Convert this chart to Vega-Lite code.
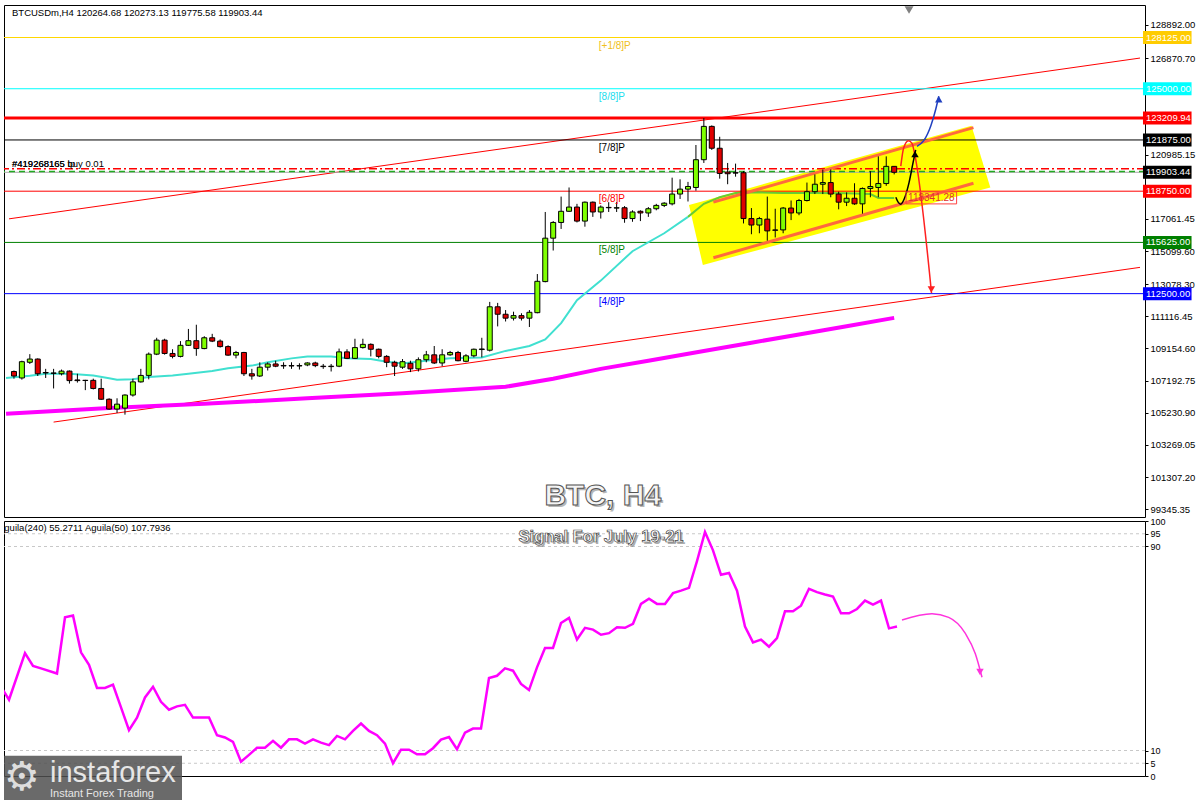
{
"$schema": "https://vega.github.io/schema/vega-lite/v6.json",
"background": "#ffffff",
"padding": {"left": 2, "top": 4, "right": 0, "bottom": 0},
"spacing": 4,
"bounds": "flush",
"resolve": {"scale": {"x": "independent", "y": "independent"}},
"config": {"view": {"stroke": "#000000", "strokeWidth": 1}, "font": "Liberation Sans"},
"datasets": {
"candles": [
{"t":"2025-06-29T16:00","o":107751,"h":107811,"l":107314,"c":107476},
{"t":"2025-06-29T20:00","o":107356,"h":108409,"l":107254,"c":108349},
{"t":"2025-06-30T00:00","o":108313,"h":108809,"l":108211,"c":108510},
{"t":"2025-06-30T04:00","o":108510,"h":108552,"l":107476,"c":107613},
{"t":"2025-06-30T08:00","o":107690,"h":107912,"l":107356,"c":107660},
{"t":"2025-06-30T12:00","o":107660,"h":107912,"l":106716,"c":107640},
{"t":"2025-06-30T16:00","o":107613,"h":107870,"l":107512,"c":107775},
{"t":"2025-06-30T20:00","o":107775,"h":107811,"l":107015,"c":107195},
{"t":"2025-07-01T00:00","o":107236,"h":107613,"l":107075,"c":107195},
{"t":"2025-07-01T04:00","o":107215,"h":107240,"l":106614,"c":107200},
{"t":"2025-07-01T08:00","o":107212,"h":107314,"l":106656,"c":106716},
{"t":"2025-07-01T12:00","o":106716,"h":107314,"l":106016,"c":106058},
{"t":"2025-07-01T16:00","o":106058,"h":106118,"l":105418,"c":105460},
{"t":"2025-07-01T20:00","o":105460,"h":106118,"l":105221,"c":105759},
{"t":"2025-07-02T00:00","o":105520,"h":106357,"l":105119,"c":106315},
{"t":"2025-07-02T04:00","o":106315,"h":107314,"l":106220,"c":107117},
{"t":"2025-07-02T08:00","o":107117,"h":107912,"l":107075,"c":107512},
{"t":"2025-07-02T12:00","o":107512,"h":108911,"l":107272,"c":108809},
{"t":"2025-07-02T16:00","o":108809,"h":109808,"l":108750,"c":109665},
{"t":"2025-07-02T20:00","o":109665,"h":109749,"l":108780,"c":108851},
{"t":"2025-07-03T00:00","o":108851,"h":109109,"l":108552,"c":108672},
{"t":"2025-07-03T04:00","o":108672,"h":109605,"l":108612,"c":109348},
{"t":"2025-07-03T08:00","o":109348,"h":110347,"l":109306,"c":109629},
{"t":"2025-07-03T12:00","o":109629,"h":110604,"l":108708,"c":109150},
{"t":"2025-07-03T16:00","o":109150,"h":109904,"l":109109,"c":109808},
{"t":"2025-07-03T20:00","o":109808,"h":110048,"l":109545,"c":109605},
{"t":"2025-07-04T00:00","o":109605,"h":109707,"l":109210,"c":109270},
{"t":"2025-07-04T04:00","o":109270,"h":109348,"l":108708,"c":108750},
{"t":"2025-07-04T08:00","o":108750,"h":109007,"l":108552,"c":108911},
{"t":"2025-07-04T12:00","o":108911,"h":108947,"l":107476,"c":107613},
{"t":"2025-07-04T16:00","o":107613,"h":107912,"l":107254,"c":107476},
{"t":"2025-07-04T20:00","o":107476,"h":108313,"l":107416,"c":108014},
{"t":"2025-07-05T00:00","o":108014,"h":108313,"l":107811,"c":108211},
{"t":"2025-07-05T04:00","o":108211,"h":108409,"l":108014,"c":108074},
{"t":"2025-07-05T08:00","o":108120,"h":108313,"l":107912,"c":108090},
{"t":"2025-07-05T12:00","o":108110,"h":108313,"l":107912,"c":108090},
{"t":"2025-07-05T16:00","o":108090,"h":108253,"l":107870,"c":108110},
{"t":"2025-07-05T20:00","o":108152,"h":108313,"l":108074,"c":108271},
{"t":"2025-07-06T00:00","o":108271,"h":108349,"l":108014,"c":108110},
{"t":"2025-07-06T04:00","o":108074,"h":108211,"l":107912,"c":108050},
{"t":"2025-07-06T08:00","o":108050,"h":108211,"l":107751,"c":108074},
{"t":"2025-07-06T12:00","o":108074,"h":109150,"l":108014,"c":108947},
{"t":"2025-07-06T16:00","o":108947,"h":109109,"l":108510,"c":108552},
{"t":"2025-07-06T20:00","o":108552,"h":109749,"l":108510,"c":109210},
{"t":"2025-07-07T00:00","o":109210,"h":109749,"l":109150,"c":109407},
{"t":"2025-07-07T04:00","o":109407,"h":109467,"l":108672,"c":109109},
{"t":"2025-07-07T08:00","o":109109,"h":109150,"l":108552,"c":108672},
{"t":"2025-07-07T12:00","o":108672,"h":108750,"l":108014,"c":108313},
{"t":"2025-07-07T16:00","o":108313,"h":108409,"l":107476,"c":108074},
{"t":"2025-07-07T20:00","o":108014,"h":108510,"l":107912,"c":108349},
{"t":"2025-07-08T00:00","o":108253,"h":108409,"l":107715,"c":107912},
{"t":"2025-07-08T04:00","o":107912,"h":108612,"l":107751,"c":108469},
{"t":"2025-07-08T08:00","o":108469,"h":109007,"l":108313,"c":108768},
{"t":"2025-07-08T12:00","o":108768,"h":109306,"l":108211,"c":108271},
{"t":"2025-07-08T16:00","o":108271,"h":109109,"l":108074,"c":108768},
{"t":"2025-07-08T20:00","o":108768,"h":109007,"l":108708,"c":108911},
{"t":"2025-07-09T00:00","o":108911,"h":109007,"l":108373,"c":108409},
{"t":"2025-07-09T04:00","o":108373,"h":108809,"l":108313,"c":108708},
{"t":"2025-07-09T08:00","o":108708,"h":109150,"l":108612,"c":109109},
{"t":"2025-07-09T12:00","o":109090,"h":109808,"l":108612,"c":109125},
{"t":"2025-07-09T16:00","o":109049,"h":111997,"l":108971,"c":111698},
{"t":"2025-07-09T20:00","o":111698,"h":111937,"l":110502,"c":111244},
{"t":"2025-07-10T00:00","o":111244,"h":111501,"l":110801,"c":111004},
{"t":"2025-07-10T04:00","o":111004,"h":111399,"l":110861,"c":111160},
{"t":"2025-07-10T08:00","o":111160,"h":111303,"l":110861,"c":111004},
{"t":"2025-07-10T12:00","o":111004,"h":111501,"l":110466,"c":111363},
{"t":"2025-07-10T16:00","o":111339,"h":113696,"l":111303,"c":113253},
{"t":"2025-07-10T20:00","o":113235,"h":117482,"l":113193,"c":115885},
{"t":"2025-07-11T00:00","o":115885,"h":116926,"l":115131,"c":116842},
{"t":"2025-07-11T04:00","o":116842,"h":118421,"l":116447,"c":117524},
{"t":"2025-07-11T08:00","o":117524,"h":118977,"l":117482,"c":117781},
{"t":"2025-07-11T12:00","o":117781,"h":117978,"l":116842,"c":116926},
{"t":"2025-07-11T16:00","o":116926,"h":118122,"l":116585,"c":118080},
{"t":"2025-07-11T20:00","o":118080,"h":118122,"l":117183,"c":117482},
{"t":"2025-07-12T00:00","o":117482,"h":117883,"l":117081,"c":117781},
{"t":"2025-07-12T04:00","o":117760,"h":118080,"l":117482,"c":117740},
{"t":"2025-07-12T08:00","o":117720,"h":118080,"l":117482,"c":117740},
{"t":"2025-07-12T12:00","o":117740,"h":117841,"l":116824,"c":117081},
{"t":"2025-07-12T16:00","o":117081,"h":117584,"l":116884,"c":117482},
{"t":"2025-07-12T20:00","o":117524,"h":117584,"l":116926,"c":117422},
{"t":"2025-07-13T00:00","o":117422,"h":117781,"l":117183,"c":117679},
{"t":"2025-07-13T04:00","o":117679,"h":117978,"l":117584,"c":117883},
{"t":"2025-07-13T08:00","o":117883,"h":118080,"l":117781,"c":118020},
{"t":"2025-07-13T12:00","o":117978,"h":119575,"l":117883,"c":118576},
{"t":"2025-07-13T16:00","o":118576,"h":119474,"l":118277,"c":118876},
{"t":"2025-07-13T20:00","o":118876,"h":119318,"l":118122,"c":119037},
{"t":"2025-07-14T00:00","o":118977,"h":121567,"l":118780,"c":120670},
{"t":"2025-07-14T04:00","o":120670,"h":123210,"l":120472,"c":122703},
{"t":"2025-07-14T08:00","o":122703,"h":122763,"l":121268,"c":121370},
{"t":"2025-07-14T12:00","o":121370,"h":122069,"l":119515,"c":119832},
{"t":"2025-07-14T16:00","o":119916,"h":120472,"l":119175,"c":119815},
{"t":"2025-07-14T20:00","o":119874,"h":120431,"l":119635,"c":119856},
{"t":"2025-07-15T00:00","o":119874,"h":119976,"l":116782,"c":117081},
{"t":"2025-07-15T04:00","o":117081,"h":117721,"l":116124,"c":116686},
{"t":"2025-07-15T08:00","o":116686,"h":117183,"l":116184,"c":117081},
{"t":"2025-07-15T12:00","o":117045,"h":118421,"l":115730,"c":116328},
{"t":"2025-07-15T16:00","o":116388,"h":117679,"l":115927,"c":116364},
{"t":"2025-07-15T20:00","o":116388,"h":117781,"l":116184,"c":117721},
{"t":"2025-07-16T00:00","o":117721,"h":118182,"l":116986,"c":117422},
{"t":"2025-07-16T04:00","o":117422,"h":118277,"l":117285,"c":118182},
{"t":"2025-07-16T08:00","o":118182,"h":119276,"l":118122,"c":118720},
{"t":"2025-07-16T12:00","o":118720,"h":119773,"l":118576,"c":119175},
{"t":"2025-07-16T16:00","o":119175,"h":120072,"l":118576,"c":119276},
{"t":"2025-07-16T20:00","o":119276,"h":120072,"l":118379,"c":118576},
{"t":"2025-07-17T00:00","o":118576,"h":118720,"l":117643,"c":118080},
{"t":"2025-07-17T04:00","o":118080,"h":118678,"l":117841,"c":118319},
{"t":"2025-07-17T08:00","o":118319,"h":119234,"l":117918,"c":117978},
{"t":"2025-07-17T12:00","o":117978,"h":118977,"l":117380,"c":118917},
{"t":"2025-07-17T16:00","o":118917,"h":119976,"l":118379,"c":119037},
{"t":"2025-07-17T20:00","o":118977,"h":120873,"l":118379,"c":119216},
{"t":"2025-07-18T00:00","o":119216,"h":120873,"l":119079,"c":120265},
{"t":"2025-07-18T04:00","o":120264.68,"h":120273.13,"l":119775.58,"c":119903.44}
],
"ma_cyan": [
{"t":"2025-06-29T12:00","p":107356},{"t":"2025-06-30T00:00","p":107494},{"t":"2025-06-30T08:00","p":107613},
{"t":"2025-06-30T20:00","p":107613},{"t":"2025-07-01T08:00","p":107512},{"t":"2025-07-01T16:00","p":107345},
{"t":"2025-07-01T20:00","p":107254},{"t":"2025-07-02T04:00","p":107272},{"t":"2025-07-02T12:00","p":107416},
{"t":"2025-07-03T00:00","p":107512},{"t":"2025-07-03T08:00","p":107613},{"t":"2025-07-03T20:00","p":107775},
{"t":"2025-07-04T04:00","p":107954},{"t":"2025-07-04T16:00","p":108110},{"t":"2025-07-05T00:00","p":108313},
{"t":"2025-07-05T12:00","p":108552},{"t":"2025-07-05T20:00","p":108672},{"t":"2025-07-06T08:00","p":108672},
{"t":"2025-07-06T16:00","p":108552},{"t":"2025-07-07T04:00","p":108510},{"t":"2025-07-07T12:00","p":108349},
{"t":"2025-07-07T20:00","p":108241},{"t":"2025-07-08T12:00","p":108469},{"t":"2025-07-08T20:00","p":108552},
{"t":"2025-07-09T12:00","p":108612},{"t":"2025-07-10T00:00","p":109007},{"t":"2025-07-10T12:00","p":109306},
{"t":"2025-07-10T20:00","p":109707},{"t":"2025-07-11T04:00","p":110705},{"t":"2025-07-11T12:00","p":112099},
{"t":"2025-07-12T00:00","p":113295},{"t":"2025-07-12T16:00","p":115090},{"t":"2025-07-13T08:00","p":116184},
{"t":"2025-07-13T20:00","p":117183}
],
"ma_green": [
{"t":"2025-07-13T20:00","p":117183},{"t":"2025-07-14T04:00","p":117978},{"t":"2025-07-14T12:00","p":118379},
{"t":"2025-07-14T20:00","p":118636},{"t":"2025-07-15T08:00","p":118678},{"t":"2025-07-15T20:00","p":118636},
{"t":"2025-07-16T12:00","p":118636},{"t":"2025-07-17T04:00","p":118618},{"t":"2025-07-17T16:00","p":118576},
{"t":"2025-07-17T20:00","p":118337},{"t":"2025-07-18T04:00","p":118337}
],
"ma_slow": [
{"t":"2025-06-29T12:00","p":105179},{"t":"2025-07-01T16:00","p":105520},{"t":"2025-07-03T16:00","p":105777},
{"t":"2025-07-05T20:00","p":106118},{"t":"2025-07-07T20:00","p":106417},{"t":"2025-07-10T00:00","p":106818},
{"t":"2025-07-11T00:00","p":107314},{"t":"2025-07-12T00:00","p":107912},{"t":"2025-07-13T00:00","p":108409},
{"t":"2025-07-14T04:00","p":109007},{"t":"2025-07-15T04:00","p":109508},{"t":"2025-07-16T04:00","p":110006},
{"t":"2025-07-17T04:00","p":110508},{"t":"2025-07-18T04:00","p":111023}
],
"trend": [
{"id":"upper","t":"2025-06-29T13:30","p":117063},{"id":"upper","t":"2025-07-23T08:00","p":126872},
{"id":"lower","t":"2025-06-30T12:00","p":104665},{"id":"lower","t":"2025-07-23T08:00","p":114103}
],
"channel": [
{"id":"top","t":"2025-07-14T08:48","p":118080},{"id":"top","t":"2025-07-19T20:00","p":122626},
{"id":"bottom","t":"2025-07-14T08:48","p":114689},{"id":"bottom","t":"2025-07-19T20:00","p":119234}
],
"yellow": [
{"t":"2025-07-13T20:30","top":117901,"bot":117901},
{"t":"2025-07-14T03:30","top":118140,"bot":114252},
{"t":"2025-07-19T19:00","top":122745,"bot":118666},
{"t":"2025-07-20T04:30","top":118977,"bot":118977}
],
"levels": [
{"name":"+1/8","p":128125,"label":"[+1/8]P","tag":"128125.00"},
{"name":"8/8","p":125000,"label":"[8/8]P","tag":"125000.00"},
{"name":"high","p":123209.94,"label":"","tag":"123209.94"},
{"name":"7/8","p":121875,"label":"[7/8]P","tag":"121875.00"},
{"name":"bid","p":119903.44,"label":"","tag":"119903.44"},
{"name":"6/8","p":118750,"label":"[6/8]P","tag":"118750.00"},
{"name":"5/8","p":115625,"label":"[5/8]P","tag":"115625.00"},
{"name":"4/8","p":112500,"label":"[4/8]P","tag":"112500.00"}
],
"arrows": [
{"id":"down","t":"2025-07-18T07:20","p":120275},{"id":"down","t":"2025-07-18T08:45","p":121370},
{"id":"down","t":"2025-07-18T11:10","p":121830},{"id":"down","t":"2025-07-18T13:00","p":121669},
{"id":"down","t":"2025-07-18T14:15","p":121070},{"id":"down","t":"2025-07-18T22:50","p":112536},
{"id":"up","t":"2025-07-18T04:50","p":118379},{"id":"up","t":"2025-07-18T06:00","p":118080},
{"id":"up","t":"2025-07-18T07:20","p":117960},{"id":"up","t":"2025-07-18T09:00","p":118259},
{"id":"up","t":"2025-07-18T11:30","p":119276},{"id":"up","t":"2025-07-18T13:30","p":120472},
{"id":"up","t":"2025-07-18T14:50","p":121268},
{"id":"break","t":"2025-07-18T15:30","p":121489},{"id":"break","t":"2025-07-18T19:00","p":121848},
{"id":"break","t":"2025-07-18T22:30","p":122745},{"id":"break","t":"2025-07-19T01:00","p":123762},
{"id":"break","t":"2025-07-19T02:30","p":124540}
],
"heads": [
{"id":"down","dir":"down","t":"2025-07-18T22:45","p":112757},
{"id":"up","dir":"up","t":"2025-07-18T14:30","p":121010},
{"id":"break","dir":"up","t":"2025-07-19T02:30","p":124360}
],
"aguila": [
{"t":"2025-06-29T12:00","v":35},{"t":"2025-06-29T16:00","v":29.9},{"t":"2025-06-30T00:00","v":48.2},
{"t":"2025-06-30T04:00","v":43.2},{"t":"2025-06-30T08:00","v":42.2},{"t":"2025-06-30T16:00","v":40.2},
{"t":"2025-06-30T20:00","v":62.2},{"t":"2025-07-01T00:00","v":62.9},{"t":"2025-07-01T04:00","v":48.5},
{"t":"2025-07-01T08:00","v":43.6},{"t":"2025-07-01T12:00","v":34.5},{"t":"2025-07-01T16:00","v":34.5},
{"t":"2025-07-01T20:00","v":35.8},{"t":"2025-07-02T00:00","v":26.9},{"t":"2025-07-02T04:00","v":18},
{"t":"2025-07-02T08:00","v":22.9},{"t":"2025-07-02T12:00","v":30.8},{"t":"2025-07-02T16:00","v":35},
{"t":"2025-07-02T20:00","v":29.1},{"t":"2025-07-03T00:00","v":26},{"t":"2025-07-03T04:00","v":27.3},
{"t":"2025-07-03T08:00","v":27.9},{"t":"2025-07-03T12:00","v":22.9},{"t":"2025-07-03T20:00","v":22.9},
{"t":"2025-07-04T00:00","v":16},{"t":"2025-07-04T04:00","v":15.1},{"t":"2025-07-04T08:00","v":13.4},
{"t":"2025-07-04T12:00","v":5.6},{"t":"2025-07-04T16:00","v":8.3},{"t":"2025-07-04T20:00","v":11.1},
{"t":"2025-07-05T00:00","v":11.1},{"t":"2025-07-05T04:00","v":13.8},{"t":"2025-07-05T08:00","v":11.1},
{"t":"2025-07-05T12:00","v":14.4},{"t":"2025-07-05T16:00","v":14.4},{"t":"2025-07-05T20:00","v":12.7},
{"t":"2025-07-06T00:00","v":14.4},{"t":"2025-07-06T04:00","v":13.1},{"t":"2025-07-06T08:00","v":12.1},
{"t":"2025-07-06T12:00","v":15.7},{"t":"2025-07-06T16:00","v":14.4},{"t":"2025-07-06T20:00","v":17.7},
{"t":"2025-07-07T00:00","v":20.6},{"t":"2025-07-07T04:00","v":17.7},{"t":"2025-07-07T08:00","v":16},
{"t":"2025-07-07T12:00","v":12.7},{"t":"2025-07-07T16:00","v":5},{"t":"2025-07-07T20:00","v":10.3},
{"t":"2025-07-08T00:00","v":10.3},{"t":"2025-07-08T04:00","v":8.5},{"t":"2025-07-08T08:00","v":8.5},
{"t":"2025-07-08T12:00","v":10.9},{"t":"2025-07-08T16:00","v":14.3},{"t":"2025-07-08T20:00","v":15.3},
{"t":"2025-07-09T00:00","v":10.5},{"t":"2025-07-09T04:00","v":17},{"t":"2025-07-09T08:00","v":18.6},
{"t":"2025-07-09T12:00","v":18.6},{"t":"2025-07-09T16:00","v":38.4},{"t":"2025-07-09T20:00","v":39.3},
{"t":"2025-07-10T00:00","v":42.2},{"t":"2025-07-10T04:00","v":41.3},{"t":"2025-07-10T08:00","v":36.1},
{"t":"2025-07-10T12:00","v":33.7},{"t":"2025-07-10T16:00","v":42.6},{"t":"2025-07-10T20:00","v":50.2},
{"t":"2025-07-11T00:00","v":50.2},{"t":"2025-07-11T04:00","v":60},{"t":"2025-07-11T08:00","v":62},
{"t":"2025-07-11T12:00","v":53.5},{"t":"2025-07-11T16:00","v":58.1},{"t":"2025-07-11T20:00","v":57.4},
{"t":"2025-07-12T00:00","v":55.4},{"t":"2025-07-12T04:00","v":56},{"t":"2025-07-12T08:00","v":58.3},
{"t":"2025-07-12T12:00","v":58.1},{"t":"2025-07-12T16:00","v":59.7},{"t":"2025-07-12T20:00","v":67.5},
{"t":"2025-07-13T00:00","v":69.5},{"t":"2025-07-13T04:00","v":67.5},{"t":"2025-07-13T08:00","v":67.5},
{"t":"2025-07-13T12:00","v":71.7},{"t":"2025-07-13T16:00","v":72.7},{"t":"2025-07-13T20:00","v":73.8},
{"t":"2025-07-14T00:00","v":84.3},{"t":"2025-07-14T04:00","v":95.7},{"t":"2025-07-14T08:00","v":88.5},
{"t":"2025-07-14T12:00","v":78.9},{"t":"2025-07-14T16:00","v":79.6},{"t":"2025-07-14T20:00","v":72.7},
{"t":"2025-07-15T00:00","v":58.6},{"t":"2025-07-15T04:00","v":52.4},{"t":"2025-07-15T08:00","v":53.5},
{"t":"2025-07-15T12:00","v":50.7},{"t":"2025-07-15T16:00","v":54.1},{"t":"2025-07-15T20:00","v":64.6},
{"t":"2025-07-16T00:00","v":64.6},{"t":"2025-07-16T04:00","v":66.8},{"t":"2025-07-16T08:00","v":73.4},
{"t":"2025-07-16T12:00","v":72.1},{"t":"2025-07-16T16:00","v":71.2},{"t":"2025-07-16T20:00","v":70.4},
{"t":"2025-07-17T00:00","v":63.8},{"t":"2025-07-17T04:00","v":63.8},{"t":"2025-07-17T08:00","v":65.5},
{"t":"2025-07-17T12:00","v":68.8},{"t":"2025-07-17T16:00","v":67.2},{"t":"2025-07-17T20:00","v":68.8},
{"t":"2025-07-18T00:00","v":57.9},{"t":"2025-07-18T04:00","v":58.6}
],
"sigarrow": [
{"t":"2025-07-18T06:30","v":61.2},{"t":"2025-07-18T21:30","v":63.6},{"t":"2025-07-19T05:50","v":62.2},
{"t":"2025-07-19T14:10","v":55.9},{"t":"2025-07-19T19:10","v":47.9},{"t":"2025-07-19T22:30","v":38.7}
]
},
"vconcat": [
{
"width": 1141, "height": 512,
"resolve": {"scale": {"color": "independent", "fill": "independent", "shape": "independent"}},
"layer": [
{"data": {"name": "yellow"}, "mark": {"type": "area", "color": "#FFFF00", "opacity": 1},
 "encoding": {"x": {"field": "t", "type": "temporal", "scale": {"domain": [{"year":2025,"month":6,"date":29,"hours":13,"minutes":30},{"year":2025,"month":7,"date":23,"hours":8}], "nice": false}, "axis": null},
  "y": {"field": "top", "type": "quantitative", "scale": {"domain": [99180,129803], "nice": false, "zero": false}, "axis": {"orient": "right", "values": [128892,126870.7,120985.15,117061.45,115099.6,113078.3,111116.45,109154.6,107192.75,105230.9,103269.05,101307.2,99345.35], "format": ".2f", "title": null, "grid": false, "domain": false, "ticks": true, "tickSize": 3, "tickColor": "#000000", "labelFont": "Liberation Sans", "labelFontSize": 9.5, "labelColor": "#000000", "labelPadding": 2, "labelOverlap": false, "labelFlush": false}},
  "y2": {"field": "bot"}}},
{"data": {"name": "trend"}, "mark": {"type": "line", "color": "#FF0000", "strokeWidth": 1},
 "encoding": {"x": {"field": "t", "type": "temporal", "scale": {"domain": [{"year":2025,"month":6,"date":29,"hours":13,"minutes":30},{"year":2025,"month":7,"date":23,"hours":8}], "nice": false}, "axis": null},
  "y": {"field": "p", "type": "quantitative", "scale": {"domain": [99180,129803], "nice": false, "zero": false}, "axis": {"orient": "right", "values": [128892,126870.7,120985.15,117061.45,115099.6,113078.3,111116.45,109154.6,107192.75,105230.9,103269.05,101307.2,99345.35], "format": ".2f", "title": null, "grid": false, "domain": false, "ticks": true, "tickSize": 3, "tickColor": "#000000", "labelFont": "Liberation Sans", "labelFontSize": 9.5, "labelColor": "#000000", "labelPadding": 2, "labelOverlap": false, "labelFlush": false}},
  "detail": {"field": "id"}}},
{"data": {"name": "ma_slow"}, "mark": {"type": "line", "color": "#FF00FF", "strokeWidth": 4, "clip": true},
 "encoding": {"x": {"field": "t", "type": "temporal", "scale": {"domain": [{"year":2025,"month":6,"date":29,"hours":13,"minutes":30},{"year":2025,"month":7,"date":23,"hours":8}], "nice": false}, "axis": null},
  "y": {"field": "p", "type": "quantitative", "scale": {"domain": [99180,129803], "nice": false, "zero": false}, "axis": {"orient": "right", "values": [128892,126870.7,120985.15,117061.45,115099.6,113078.3,111116.45,109154.6,107192.75,105230.9,103269.05,101307.2,99345.35], "format": ".2f", "title": null, "grid": false, "domain": false, "ticks": true, "tickSize": 3, "tickColor": "#000000", "labelFont": "Liberation Sans", "labelFontSize": 9.5, "labelColor": "#000000", "labelPadding": 2, "labelOverlap": false, "labelFlush": false}}}},
{"data": {"name": "levels"}, "transform": [{"filter": "datum.name != 'high'"}], "mark": {"type": "rule", "strokeWidth": 1},
 "encoding": {"y": {"field": "p", "type": "quantitative", "scale": {"domain": [99180,129803], "nice": false, "zero": false}, "axis": {"orient": "right", "values": [128892,126870.7,120985.15,117061.45,115099.6,113078.3,111116.45,109154.6,107192.75,105230.9,103269.05,101307.2,99345.35], "format": ".2f", "title": null, "grid": false, "domain": false, "ticks": true, "tickSize": 3, "tickColor": "#000000", "labelFont": "Liberation Sans", "labelFontSize": 9.5, "labelColor": "#000000", "labelPadding": 2, "labelOverlap": false, "labelFlush": false}},
  "color": {"field": "name", "type": "nominal", "scale": {"domain": ["+1/8","8/8","7/8","bid","6/8","5/8","4/8"], "range": ["#FFD700","#00FFFF","#000000","#A9A9A9","#FF0000","#008000","#0000FF"]}, "legend": null}}},
{"data": {"name": "levels"}, "transform": [{"filter": "datum.name == 'high'"}], "mark": {"type": "rule", "strokeWidth": 3, "color": "#FF0000"},
 "encoding": {"y": {"field": "p", "type": "quantitative", "scale": {"domain": [99180,129803], "nice": false, "zero": false}, "axis": {"orient": "right", "values": [128892,126870.7,120985.15,117061.45,115099.6,113078.3,111116.45,109154.6,107192.75,105230.9,103269.05,101307.2,99345.35], "format": ".2f", "title": null, "grid": false, "domain": false, "ticks": true, "tickSize": 3, "tickColor": "#000000", "labelFont": "Liberation Sans", "labelFontSize": 9.5, "labelColor": "#000000", "labelPadding": 2, "labelOverlap": false, "labelFlush": false}}}},
{"data": {"values": [{"p": 120114}]}, "mark": {"type": "rule", "strokeWidth": 1.5, "color": "#FF0000", "strokeDash": [8,3,2,3]},
 "encoding": {"y": {"field": "p", "type": "quantitative", "scale": {"domain": [99180,129803], "nice": false, "zero": false}, "axis": {"orient": "right", "values": [128892,126870.7,120985.15,117061.45,115099.6,113078.3,111116.45,109154.6,107192.75,105230.9,103269.05,101307.2,99345.35], "format": ".2f", "title": null, "grid": false, "domain": false, "ticks": true, "tickSize": 3, "tickColor": "#000000", "labelFont": "Liberation Sans", "labelFontSize": 9.5, "labelColor": "#000000", "labelPadding": 2, "labelOverlap": false, "labelFlush": false}}}},
{"data": {"values": [{"p": 119953}]}, "mark": {"type": "rule", "strokeWidth": 1.5, "color": "#22AA22", "strokeDash": [6,4]},
 "encoding": {"y": {"field": "p", "type": "quantitative", "scale": {"domain": [99180,129803], "nice": false, "zero": false}, "axis": {"orient": "right", "values": [128892,126870.7,120985.15,117061.45,115099.6,113078.3,111116.45,109154.6,107192.75,105230.9,103269.05,101307.2,99345.35], "format": ".2f", "title": null, "grid": false, "domain": false, "ticks": true, "tickSize": 3, "tickColor": "#000000", "labelFont": "Liberation Sans", "labelFontSize": 9.5, "labelColor": "#000000", "labelPadding": 2, "labelOverlap": false, "labelFlush": false}}}},
{"data": {"name": "ma_cyan"}, "mark": {"type": "line", "color": "#40E0D0", "strokeWidth": 2, "clip": true},
 "encoding": {"x": {"field": "t", "type": "temporal", "scale": {"domain": [{"year":2025,"month":6,"date":29,"hours":13,"minutes":30},{"year":2025,"month":7,"date":23,"hours":8}], "nice": false}, "axis": null},
  "y": {"field": "p", "type": "quantitative", "scale": {"domain": [99180,129803], "nice": false, "zero": false}, "axis": {"orient": "right", "values": [128892,126870.7,120985.15,117061.45,115099.6,113078.3,111116.45,109154.6,107192.75,105230.9,103269.05,101307.2,99345.35], "format": ".2f", "title": null, "grid": false, "domain": false, "ticks": true, "tickSize": 3, "tickColor": "#000000", "labelFont": "Liberation Sans", "labelFontSize": 9.5, "labelColor": "#000000", "labelPadding": 2, "labelOverlap": false, "labelFlush": false}}}},
{"data": {"name": "ma_green"}, "mark": {"type": "line", "color": "#66CC33", "strokeWidth": 2},
 "encoding": {"x": {"field": "t", "type": "temporal", "scale": {"domain": [{"year":2025,"month":6,"date":29,"hours":13,"minutes":30},{"year":2025,"month":7,"date":23,"hours":8}], "nice": false}, "axis": null},
  "y": {"field": "p", "type": "quantitative", "scale": {"domain": [99180,129803], "nice": false, "zero": false}, "axis": {"orient": "right", "values": [128892,126870.7,120985.15,117061.45,115099.6,113078.3,111116.45,109154.6,107192.75,105230.9,103269.05,101307.2,99345.35], "format": ".2f", "title": null, "grid": false, "domain": false, "ticks": true, "tickSize": 3, "tickColor": "#000000", "labelFont": "Liberation Sans", "labelFontSize": 9.5, "labelColor": "#000000", "labelPadding": 2, "labelOverlap": false, "labelFlush": false}}}},
{"data": {"name": "channel"}, "mark": {"type": "line", "color": "#FF6A3D", "strokeWidth": 3},
 "encoding": {"x": {"field": "t", "type": "temporal", "scale": {"domain": [{"year":2025,"month":6,"date":29,"hours":13,"minutes":30},{"year":2025,"month":7,"date":23,"hours":8}], "nice": false}, "axis": null},
  "y": {"field": "p", "type": "quantitative", "scale": {"domain": [99180,129803], "nice": false, "zero": false}, "axis": {"orient": "right", "values": [128892,126870.7,120985.15,117061.45,115099.6,113078.3,111116.45,109154.6,107192.75,105230.9,103269.05,101307.2,99345.35], "format": ".2f", "title": null, "grid": false, "domain": false, "ticks": true, "tickSize": 3, "tickColor": "#000000", "labelFont": "Liberation Sans", "labelFontSize": 9.5, "labelColor": "#000000", "labelPadding": 2, "labelOverlap": false, "labelFlush": false}},
  "detail": {"field": "id"}}},
{"data": {"name": "candles"}, "mark": {"type": "rule", "color": "#000000", "strokeWidth": 1},
 "encoding": {"x": {"field": "t", "type": "temporal", "scale": {"domain": [{"year":2025,"month":6,"date":29,"hours":13,"minutes":30},{"year":2025,"month":7,"date":23,"hours":8}], "nice": false}, "axis": null},
  "y": {"field": "l", "type": "quantitative", "scale": {"domain": [99180,129803], "nice": false, "zero": false}, "axis": {"orient": "right", "values": [128892,126870.7,120985.15,117061.45,115099.6,113078.3,111116.45,109154.6,107192.75,105230.9,103269.05,101307.2,99345.35], "format": ".2f", "title": null, "grid": false, "domain": false, "ticks": true, "tickSize": 3, "tickColor": "#000000", "labelFont": "Liberation Sans", "labelFontSize": 9.5, "labelColor": "#000000", "labelPadding": 2, "labelOverlap": false, "labelFlush": false}},
  "y2": {"field": "h"}}},
{"data": {"name": "candles"}, "mark": {"type": "bar", "orient": "vertical", "size": 5, "stroke": "#000000", "strokeWidth": 1},
 "encoding": {"x": {"field": "t", "type": "temporal", "scale": {"domain": [{"year":2025,"month":6,"date":29,"hours":13,"minutes":30},{"year":2025,"month":7,"date":23,"hours":8}], "nice": false}, "axis": null},
  "y": {"field": "o", "type": "quantitative", "scale": {"domain": [99180,129803], "nice": false, "zero": false}, "axis": {"orient": "right", "values": [128892,126870.7,120985.15,117061.45,115099.6,113078.3,111116.45,109154.6,107192.75,105230.9,103269.05,101307.2,99345.35], "format": ".2f", "title": null, "grid": false, "domain": false, "ticks": true, "tickSize": 3, "tickColor": "#000000", "labelFont": "Liberation Sans", "labelFontSize": 9.5, "labelColor": "#000000", "labelPadding": 2, "labelOverlap": false, "labelFlush": false}},
  "y2": {"field": "c"},
  "fill": {"condition": {"test": "datum.c >= datum.o", "value": "#7FFF00"}, "value": "#E00000"}}},
{"data": {"name": "arrows"}, "mark": {"type": "line", "strokeWidth": 1.5, "interpolate": "monotone"},
 "encoding": {"x": {"field": "t", "type": "temporal", "scale": {"domain": [{"year":2025,"month":6,"date":29,"hours":13,"minutes":30},{"year":2025,"month":7,"date":23,"hours":8}], "nice": false}, "axis": null},
  "y": {"field": "p", "type": "quantitative", "scale": {"domain": [99180,129803], "nice": false, "zero": false}, "axis": {"orient": "right", "values": [128892,126870.7,120985.15,117061.45,115099.6,113078.3,111116.45,109154.6,107192.75,105230.9,103269.05,101307.2,99345.35], "format": ".2f", "title": null, "grid": false, "domain": false, "ticks": true, "tickSize": 3, "tickColor": "#000000", "labelFont": "Liberation Sans", "labelFontSize": 9.5, "labelColor": "#000000", "labelPadding": 2, "labelOverlap": false, "labelFlush": false}},
  "color": {"field": "id", "type": "nominal", "scale": {"domain": ["down","up","break"], "range": ["#FF2020","#000000","#2040C0"]}, "legend": null}}},
{"data": {"name": "heads"}, "mark": {"type": "point", "filled": true, "size": 55, "opacity": 1},
 "encoding": {"x": {"field": "t", "type": "temporal", "scale": {"domain": [{"year":2025,"month":6,"date":29,"hours":13,"minutes":30},{"year":2025,"month":7,"date":23,"hours":8}], "nice": false}, "axis": null},
  "y": {"field": "p", "type": "quantitative", "scale": {"domain": [99180,129803], "nice": false, "zero": false}, "axis": {"orient": "right", "values": [128892,126870.7,120985.15,117061.45,115099.6,113078.3,111116.45,109154.6,107192.75,105230.9,103269.05,101307.2,99345.35], "format": ".2f", "title": null, "grid": false, "domain": false, "ticks": true, "tickSize": 3, "tickColor": "#000000", "labelFont": "Liberation Sans", "labelFontSize": 9.5, "labelColor": "#000000", "labelPadding": 2, "labelOverlap": false, "labelFlush": false}},
  "color": {"field": "id", "type": "nominal", "scale": {"domain": ["down","up","break"], "range": ["#FF2020","#000000","#2040C0"]}, "legend": null},
  "shape": {"field": "dir", "type": "nominal", "scale": {"domain": ["up","down"], "range": ["triangle-up","triangle-down"]}, "legend": null}}},
{"data": {"values": [{"p": 118341.28, "label": "118341.28"}]}, "mark": {"type": "bar", "orient": "horizontal", "size": 12, "fillOpacity": 0, "stroke": "#FF4040", "strokeWidth": 1},
 "encoding": {"x": {"datum": {"year":2025,"month":7,"date":18,"hours":10}, "type": "temporal", "scale": {"domain": [{"year":2025,"month":6,"date":29,"hours":13,"minutes":30},{"year":2025,"month":7,"date":23,"hours":8}], "nice": false}, "axis": null},
  "x2": {"datum": {"year":2025,"month":7,"date":19,"hours":11,"minutes":30}},
  "y": {"field": "p", "type": "quantitative", "scale": {"domain": [99180,129803], "nice": false, "zero": false}, "axis": {"orient": "right", "values": [128892,126870.7,120985.15,117061.45,115099.6,113078.3,111116.45,109154.6,107192.75,105230.9,103269.05,101307.2,99345.35], "format": ".2f", "title": null, "grid": false, "domain": false, "ticks": true, "tickSize": 3, "tickColor": "#000000", "labelFont": "Liberation Sans", "labelFontSize": 9.5, "labelColor": "#000000", "labelPadding": 2, "labelOverlap": false, "labelFlush": false}}}},
{"data": {"values": [{"p": 118341.28, "label": "118341.28"}]}, "mark": {"type": "text", "align": "left", "baseline": "middle", "dx": 2, "fontSize": 10, "color": "#E03030"},
 "encoding": {"x": {"datum": {"year":2025,"month":7,"date":18,"hours":10}, "type": "temporal", "scale": {"domain": [{"year":2025,"month":6,"date":29,"hours":13,"minutes":30},{"year":2025,"month":7,"date":23,"hours":8}], "nice": false}, "axis": null},
  "y": {"field": "p", "type": "quantitative", "scale": {"domain": [99180,129803], "nice": false, "zero": false}, "axis": {"orient": "right", "values": [128892,126870.7,120985.15,117061.45,115099.6,113078.3,111116.45,109154.6,107192.75,105230.9,103269.05,101307.2,99345.35], "format": ".2f", "title": null, "grid": false, "domain": false, "ticks": true, "tickSize": 3, "tickColor": "#000000", "labelFont": "Liberation Sans", "labelFontSize": 9.5, "labelColor": "#000000", "labelPadding": 2, "labelOverlap": false, "labelFlush": false}},
  "text": {"field": "label"}}},
{"data": {"name": "levels"}, "transform": [{"filter": "datum.label != ''"}], "mark": {"type": "text", "align": "left", "baseline": "top", "dy": 3, "fontSize": 10},
 "encoding": {"x": {"datum": {"year":2025,"month":7,"date":11,"hours":23}, "type": "temporal", "scale": {"domain": [{"year":2025,"month":6,"date":29,"hours":13,"minutes":30},{"year":2025,"month":7,"date":23,"hours":8}], "nice": false}, "axis": null},
  "y": {"field": "p", "type": "quantitative", "scale": {"domain": [99180,129803], "nice": false, "zero": false}, "axis": {"orient": "right", "values": [128892,126870.7,120985.15,117061.45,115099.6,113078.3,111116.45,109154.6,107192.75,105230.9,103269.05,101307.2,99345.35], "format": ".2f", "title": null, "grid": false, "domain": false, "ticks": true, "tickSize": 3, "tickColor": "#000000", "labelFont": "Liberation Sans", "labelFontSize": 9.5, "labelColor": "#000000", "labelPadding": 2, "labelOverlap": false, "labelFlush": false}},
  "text": {"field": "label"},
  "color": {"field": "name", "type": "nominal", "scale": {"domain": ["+1/8","8/8","7/8","6/8","5/8","4/8"], "range": ["#F0C020","#22DDEE","#000000","#FF0000","#008000","#0000FF"]}, "legend": null}}},
{"data": {"name": "levels"}, "mark": {"type": "bar", "orient": "horizontal", "size": 13},
 "encoding": {"x": {"datum": {"year":2025,"month":7,"date":23,"hours":9,"minutes":30}, "type": "temporal", "scale": {"domain": [{"year":2025,"month":6,"date":29,"hours":13,"minutes":30},{"year":2025,"month":7,"date":23,"hours":8}], "nice": false}, "axis": null},
  "x2": {"datum": {"year":2025,"month":7,"date":24,"hours":10}},
  "y": {"field": "p", "type": "quantitative", "scale": {"domain": [99180,129803], "nice": false, "zero": false}, "axis": {"orient": "right", "values": [128892,126870.7,120985.15,117061.45,115099.6,113078.3,111116.45,109154.6,107192.75,105230.9,103269.05,101307.2,99345.35], "format": ".2f", "title": null, "grid": false, "domain": false, "ticks": true, "tickSize": 3, "tickColor": "#000000", "labelFont": "Liberation Sans", "labelFontSize": 9.5, "labelColor": "#000000", "labelPadding": 2, "labelOverlap": false, "labelFlush": false}},
  "fill": {"field": "name", "type": "nominal", "scale": {"domain": ["+1/8","8/8","high","7/8","bid","6/8","5/8","4/8"], "range": ["#FFCC00","#00FFFF","#FF0000","#000000","#000000","#FF0000","#008000","#0000FF"]}, "legend": null}}},
{"data": {"name": "levels"}, "mark": {"type": "text", "align": "left", "baseline": "middle", "dx": 3, "fontSize": 9.5, "color": "#FFFFFF"},
 "encoding": {"x": {"datum": {"year":2025,"month":7,"date":23,"hours":9,"minutes":30}, "type": "temporal", "scale": {"domain": [{"year":2025,"month":6,"date":29,"hours":13,"minutes":30},{"year":2025,"month":7,"date":23,"hours":8}], "nice": false}, "axis": null},
  "y": {"field": "p", "type": "quantitative", "scale": {"domain": [99180,129803], "nice": false, "zero": false}, "axis": {"orient": "right", "values": [128892,126870.7,120985.15,117061.45,115099.6,113078.3,111116.45,109154.6,107192.75,105230.9,103269.05,101307.2,99345.35], "format": ".2f", "title": null, "grid": false, "domain": false, "ticks": true, "tickSize": 3, "tickColor": "#000000", "labelFont": "Liberation Sans", "labelFontSize": 9.5, "labelColor": "#000000", "labelPadding": 2, "labelOverlap": false, "labelFlush": false}},
  "text": {"field": "tag"}}},
{"data": {"values": [{"p": 129324, "label": "BTCUSDm,H4  120264.68 120273.13 119775.58 119903.44"}, {"p": 120134, "label": "#419268165 tp"}, {"p": 120074, "label": "#419268165 buy 0.01"}]}, "mark": {"type": "text", "align": "left", "baseline": "bottom", "dx": 3, "fontSize": 9.5, "color": "#000000"},
 "encoding": {"x": {"datum": {"year":2025,"month":6,"date":29,"hours":13,"minutes":30}, "type": "temporal", "scale": {"domain": [{"year":2025,"month":6,"date":29,"hours":13,"minutes":30},{"year":2025,"month":7,"date":23,"hours":8}], "nice": false}, "axis": null},
  "y": {"field": "p", "type": "quantitative", "scale": {"domain": [99180,129803], "nice": false, "zero": false}, "axis": {"orient": "right", "values": [128892,126870.7,120985.15,117061.45,115099.6,113078.3,111116.45,109154.6,107192.75,105230.9,103269.05,101307.2,99345.35], "format": ".2f", "title": null, "grid": false, "domain": false, "ticks": true, "tickSize": 3, "tickColor": "#000000", "labelFont": "Liberation Sans", "labelFontSize": 9.5, "labelColor": "#000000", "labelPadding": 2, "labelOverlap": false, "labelFlush": false}},
  "text": {"field": "label"}}},
{"data": {"values": [{"p": 100137, "label": "BTC, H4"}]}, "mark": {"type": "text", "align": "center", "baseline": "middle", "dx": 2, "dy": 2, "fontSize": 30, "fontWeight": "bold", "color": "#888888", "opacity": 0.6},
 "encoding": {"x": {"datum": {"year":2025,"month":7,"date":12,"hours":1}, "type": "temporal", "scale": {"domain": [{"year":2025,"month":6,"date":29,"hours":13,"minutes":30},{"year":2025,"month":7,"date":23,"hours":8}], "nice": false}, "axis": null},
  "y": {"field": "p", "type": "quantitative", "scale": {"domain": [99180,129803], "nice": false, "zero": false}, "axis": {"orient": "right", "values": [128892,126870.7,120985.15,117061.45,115099.6,113078.3,111116.45,109154.6,107192.75,105230.9,103269.05,101307.2,99345.35], "format": ".2f", "title": null, "grid": false, "domain": false, "ticks": true, "tickSize": 3, "tickColor": "#000000", "labelFont": "Liberation Sans", "labelFontSize": 9.5, "labelColor": "#000000", "labelPadding": 2, "labelOverlap": false, "labelFlush": false}},
  "text": {"field": "label"}}},
{"data": {"values": [{"p": 100137, "label": "BTC, H4"}]}, "mark": {"type": "text", "align": "center", "baseline": "middle", "fontSize": 30, "fontWeight": "bold", "fill": "#F4F4F4", "stroke": "#555555", "strokeWidth": 1},
 "encoding": {"x": {"datum": {"year":2025,"month":7,"date":12,"hours":1}, "type": "temporal", "scale": {"domain": [{"year":2025,"month":6,"date":29,"hours":13,"minutes":30},{"year":2025,"month":7,"date":23,"hours":8}], "nice": false}, "axis": null},
  "y": {"field": "p", "type": "quantitative", "scale": {"domain": [99180,129803], "nice": false, "zero": false}, "axis": {"orient": "right", "values": [128892,126870.7,120985.15,117061.45,115099.6,113078.3,111116.45,109154.6,107192.75,105230.9,103269.05,101307.2,99345.35], "format": ".2f", "title": null, "grid": false, "domain": false, "ticks": true, "tickSize": 3, "tickColor": "#000000", "labelFont": "Liberation Sans", "labelFontSize": 9.5, "labelColor": "#000000", "labelPadding": 2, "labelOverlap": false, "labelFlush": false}},
  "text": {"field": "label"}}},
{"data": {"values": [{"p": 129803}]}, "mark": {"type": "point", "shape": "triangle-down", "filled": true, "size": 80, "color": "#808080", "opacity": 1, "clip": true},
 "encoding": {"x": {"datum": {"year":2025,"month":7,"date":18,"hours":11,"minutes":30}, "type": "temporal", "scale": {"domain": [{"year":2025,"month":6,"date":29,"hours":13,"minutes":30},{"year":2025,"month":7,"date":23,"hours":8}], "nice": false}, "axis": null},
  "y": {"field": "p", "type": "quantitative", "scale": {"domain": [99180,129803], "nice": false, "zero": false}, "axis": {"orient": "right", "values": [128892,126870.7,120985.15,117061.45,115099.6,113078.3,111116.45,109154.6,107192.75,105230.9,103269.05,101307.2,99345.35], "format": ".2f", "title": null, "grid": false, "domain": false, "ticks": true, "tickSize": 3, "tickColor": "#000000", "labelFont": "Liberation Sans", "labelFontSize": 9.5, "labelColor": "#000000", "labelPadding": 2, "labelOverlap": false, "labelFlush": false}}}}
]
},
{
"width": 1141, "height": 255,
"layer": [
{"data": {"values": [{"v": 95}, {"v": 90}, {"v": 10}, {"v": 5}]}, "mark": {"type": "rule", "color": "#C8C8C8", "strokeWidth": 1, "strokeDash": [3,3]},
 "encoding": {"y": {"field": "v", "type": "quantitative", "scale": {"domain": [0,100], "nice": false, "zero": false}, "axis": {"orient": "right", "values": [0,5,10,90,95,100], "format": "d", "title": null, "grid": false, "domain": false, "tickSize": 3, "tickColor": "#000000", "labelFont": "Liberation Sans", "labelFontSize": 9, "labelColor": "#000000", "labelPadding": 2, "labelOverlap": false, "labelFlush": false}}}},
{"data": {"name": "aguila"}, "mark": {"type": "line", "color": "#FF00FF", "strokeWidth": 2.5, "clip": true},
 "encoding": {"x": {"field": "t", "type": "temporal", "scale": {"domain": [{"year":2025,"month":6,"date":29,"hours":13,"minutes":30},{"year":2025,"month":7,"date":23,"hours":8}], "nice": false},
   "axis": {"orient": "bottom", "values": [{"year":2025,"month":6,"date":30,"hours":16},{"year":2025,"month":7,"date":2,"hours":0},{"year":2025,"month":7,"date":3,"hours":8},{"year":2025,"month":7,"date":4,"hours":16},{"year":2025,"month":7,"date":6,"hours":0},{"year":2025,"month":7,"date":7,"hours":8},{"year":2025,"month":7,"date":8,"hours":16},{"year":2025,"month":7,"date":10,"hours":0},{"year":2025,"month":7,"date":11,"hours":8},{"year":2025,"month":7,"date":12,"hours":16},{"year":2025,"month":7,"date":14,"hours":0},{"year":2025,"month":7,"date":15,"hours":8},{"year":2025,"month":7,"date":16,"hours":16},{"year":2025,"month":7,"date":18,"hours":0}],
    "format": "%-d %b %H:%M", "labelAlign": "left", "labelBaseline": "top", "labelPadding": 1, "tickSize": 4, "tickColor": "#000000", "domain": false, "grid": false, "title": null, "labelFont": "Liberation Sans", "labelFontSize": 9, "labelColor": "#000000", "labelOverlap": false, "labelFlush": false}},
  "y": {"field": "v", "type": "quantitative", "scale": {"domain": [0,100], "nice": false, "zero": false}, "axis": {"orient": "right", "values": [0,5,10,90,95,100], "format": "d", "title": null, "grid": false, "domain": false, "tickSize": 3, "tickColor": "#000000", "labelFont": "Liberation Sans", "labelFontSize": 9, "labelColor": "#000000", "labelPadding": 2, "labelOverlap": false, "labelFlush": false}}}},
{"data": {"name": "sigarrow"}, "mark": {"type": "line", "color": "#FF33DD", "strokeWidth": 1.5, "interpolate": "monotone"},
 "encoding": {"x": {"field": "t", "type": "temporal", "scale": {"domain": [{"year":2025,"month":6,"date":29,"hours":13,"minutes":30},{"year":2025,"month":7,"date":23,"hours":8}], "nice": false}, "axis": null},
  "y": {"field": "v", "type": "quantitative", "scale": {"domain": [0,100], "nice": false, "zero": false}, "axis": {"orient": "right", "values": [0,5,10,90,95,100], "format": "d", "title": null, "grid": false, "domain": false, "tickSize": 3, "tickColor": "#000000", "labelFont": "Liberation Sans", "labelFontSize": 9, "labelColor": "#000000", "labelPadding": 2, "labelOverlap": false, "labelFlush": false}}}},
{"data": {"values": [{"t": "2025-07-19T21:30", "v": 40.8}]}, "mark": {"type": "point", "shape": "triangle-down", "filled": true, "size": 55, "color": "#FF33DD", "opacity": 1},
 "encoding": {"x": {"field": "t", "type": "temporal", "scale": {"domain": [{"year":2025,"month":6,"date":29,"hours":13,"minutes":30},{"year":2025,"month":7,"date":23,"hours":8}], "nice": false}, "axis": null},
  "y": {"field": "v", "type": "quantitative", "scale": {"domain": [0,100], "nice": false, "zero": false}, "axis": {"orient": "right", "values": [0,5,10,90,95,100], "format": "d", "title": null, "grid": false, "domain": false, "tickSize": 3, "tickColor": "#000000", "labelFont": "Liberation Sans", "labelFontSize": 9, "labelColor": "#000000", "labelPadding": 2, "labelOverlap": false, "labelFlush": false}}}},
{"data": {"values": [{"v": 93.8, "label": "Signal For July 19-21"}]}, "mark": {"type": "text", "align": "center", "baseline": "middle", "dx": 2, "dy": 2, "fontSize": 16.5, "fontWeight": "bold", "color": "#777777", "opacity": 0.6},
 "encoding": {"x": {"datum": {"year":2025,"month":7,"date":12,"hours":0}, "type": "temporal", "scale": {"domain": [{"year":2025,"month":6,"date":29,"hours":13,"minutes":30},{"year":2025,"month":7,"date":23,"hours":8}], "nice": false}, "axis": null},
  "y": {"field": "v", "type": "quantitative", "scale": {"domain": [0,100], "nice": false, "zero": false}, "axis": {"orient": "right", "values": [0,5,10,90,95,100], "format": "d", "title": null, "grid": false, "domain": false, "tickSize": 3, "tickColor": "#000000", "labelFont": "Liberation Sans", "labelFontSize": 9, "labelColor": "#000000", "labelPadding": 2, "labelOverlap": false, "labelFlush": false}},
  "text": {"field": "label"}}},
{"data": {"values": [{"v": 93.8, "label": "Signal For July 19-21"}]}, "mark": {"type": "text", "align": "center", "baseline": "middle", "fontSize": 16.5, "fontWeight": "bold", "fill": "#FFFFFF", "stroke": "#444444", "strokeWidth": 0.7},
 "encoding": {"x": {"datum": {"year":2025,"month":7,"date":12,"hours":0}, "type": "temporal", "scale": {"domain": [{"year":2025,"month":6,"date":29,"hours":13,"minutes":30},{"year":2025,"month":7,"date":23,"hours":8}], "nice": false}, "axis": null},
  "y": {"field": "v", "type": "quantitative", "scale": {"domain": [0,100], "nice": false, "zero": false}, "axis": {"orient": "right", "values": [0,5,10,90,95,100], "format": "d", "title": null, "grid": false, "domain": false, "tickSize": 3, "tickColor": "#000000", "labelFont": "Liberation Sans", "labelFontSize": 9, "labelColor": "#000000", "labelPadding": 2, "labelOverlap": false, "labelFlush": false}},
  "text": {"field": "label"}}},
{"data": {"values": [{"v": 97.1, "label": "Aguila(240) 55.2711  Aguila(50) 107.7936"}]}, "mark": {"type": "text", "align": "left", "baseline": "middle", "dx": -6, "fontSize": 9.5, "color": "#000000", "clip": true},
 "encoding": {"x": {"datum": {"year":2025,"month":6,"date":29,"hours":13,"minutes":30}, "type": "temporal", "scale": {"domain": [{"year":2025,"month":6,"date":29,"hours":13,"minutes":30},{"year":2025,"month":7,"date":23,"hours":8}], "nice": false}, "axis": null},
  "y": {"field": "v", "type": "quantitative", "scale": {"domain": [0,100], "nice": false, "zero": false}, "axis": {"orient": "right", "values": [0,5,10,90,95,100], "format": "d", "title": null, "grid": false, "domain": false, "tickSize": 3, "tickColor": "#000000", "labelFont": "Liberation Sans", "labelFontSize": 9, "labelColor": "#000000", "labelPadding": 2, "labelOverlap": false, "labelFlush": false}},
  "text": {"field": "label"}}},
{"data": {"values": [{"top": 7.9, "bottom": -9.8}]}, "mark": {"type": "rect", "color": "#505050", "opacity": 0.85},
 "encoding": {"x": {"datum": {"year":2025,"month":6,"date":29,"hours":13,"minutes":30}, "type": "temporal", "scale": {"domain": [{"year":2025,"month":6,"date":29,"hours":13,"minutes":30},{"year":2025,"month":7,"date":23,"hours":8}], "nice": false}, "axis": null},
  "x2": {"datum": {"year":2025,"month":7,"date":3,"hours":6,"minutes":30}},
  "y": {"field": "top", "type": "quantitative", "scale": {"domain": [0,100], "nice": false, "zero": false}, "axis": {"orient": "right", "values": [0,5,10,90,95,100], "format": "d", "title": null, "grid": false, "domain": false, "tickSize": 3, "tickColor": "#000000", "labelFont": "Liberation Sans", "labelFontSize": 9, "labelColor": "#000000", "labelPadding": 2, "labelOverlap": false, "labelFlush": false}},
  "y2": {"field": "bottom"}}},
{"data": {"values": [{"v": -0.6, "label": "⚙"}]}, "mark": {"type": "text", "align": "center", "baseline": "middle", "font": "DejaVu Sans", "fontSize": 40, "color": "#DDDDDD"},
 "encoding": {"x": {"datum": {"year":2025,"month":6,"date":29,"hours":22,"minutes":30}, "type": "temporal", "scale": {"domain": [{"year":2025,"month":6,"date":29,"hours":13,"minutes":30},{"year":2025,"month":7,"date":23,"hours":8}], "nice": false}, "axis": null},
  "y": {"field": "v", "type": "quantitative", "scale": {"domain": [0,100], "nice": false, "zero": false}, "axis": {"orient": "right", "values": [0,5,10,90,95,100], "format": "d", "title": null, "grid": false, "domain": false, "tickSize": 3, "tickColor": "#000000", "labelFont": "Liberation Sans", "labelFontSize": 9, "labelColor": "#000000", "labelPadding": 2, "labelOverlap": false, "labelFlush": false}},
  "text": {"field": "label"}}},
{"data": {"values": [{"v": 1.2, "label": "instaforex", "size": "big"}, {"v": -6.9, "label": "Instant Forex Trading", "size": "small"}]}, "mark": {"type": "text", "align": "left", "baseline": "middle", "color": "#E6E6E6"},
 "encoding": {"x": {"datum": {"year":2025,"month":6,"date":30,"hours":12,"minutes":30}, "type": "temporal", "scale": {"domain": [{"year":2025,"month":6,"date":29,"hours":13,"minutes":30},{"year":2025,"month":7,"date":23,"hours":8}], "nice": false}, "axis": null},
  "y": {"field": "v", "type": "quantitative", "scale": {"domain": [0,100], "nice": false, "zero": false}, "axis": {"orient": "right", "values": [0,5,10,90,95,100], "format": "d", "title": null, "grid": false, "domain": false, "tickSize": 3, "tickColor": "#000000", "labelFont": "Liberation Sans", "labelFontSize": 9, "labelColor": "#000000", "labelPadding": 2, "labelOverlap": false, "labelFlush": false}},
  "text": {"field": "label"},
  "size": {"field": "size", "type": "nominal", "scale": {"domain": ["big","small"], "range": [29,11]}, "legend": null}}}
]
}
]
}
